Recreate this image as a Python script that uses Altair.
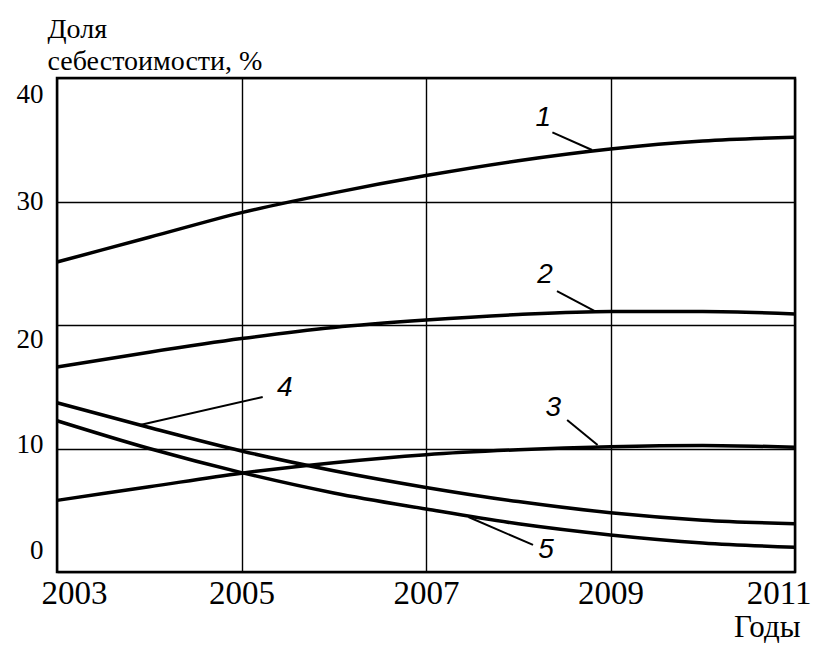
import altair as alt
import pandas as pd

years = [2003, 2004, 2005, 2006, 2007, 2008, 2009, 2010, 2011]
series_1 = [25.1, 27.1, 29.1, 30.7, 32.1, 33.3, 34.25, 34.9, 35.2]
series_2 = [16.6, 17.8, 18.9, 19.8, 20.4, 20.85, 21.1, 21.1, 20.9]
series_3 = [5.8, 6.9, 8.0, 8.85, 9.5, 9.9, 10.15, 10.25, 10.1]
series_4 = [13.7, 11.7, 9.8, 8.2, 6.85, 5.7, 4.8, 4.2, 3.9]
series_5 = [12.25, 10.0, 8.05, 6.4, 5.1, 3.9, 3.0, 2.35, 2.0]
series_names = ["1", "2", "3", "4", "5"]

label_text = ["1", "2", "3", "4", "5"]
label_year = [2008.27, 2008.29, 2008.38, 2005.47, 2008.3]
label_value = [36.76, 24.05, 13.3, 14.9, 1.8]
leader_year_start = [2008.37, 2008.42, 2008.53, 2005.23, 2008.16]
leader_value_start = [35.6, 22.75, 12.3, 14.17, 2.19]
leader_year_end = [2008.8, 2008.83, 2008.86, 2003.9, 2007.46]
leader_value_end = [34.17, 21.13, 10.28, 11.9, 4.45]

x_ticks = [2003, 2005, 2007, 2009, 2011]
y_ticks = [0, 10, 20, 30, 40]

SERIF = "Times New Roman, Liberation Serif, serif"

rows = []
for name, vals in zip(series_names, [series_1, series_2, series_3, series_4, series_5]):
    for yr, v in zip(years, vals):
        rows.append({"series": name, "year": yr, "value": v})
lines_df = pd.DataFrame(rows)

labels_df = pd.DataFrame({"text": label_text, "year": label_year, "value": label_value})
leaders_df = pd.DataFrame({
    "x1": leader_year_start, "y1": leader_value_start,
    "x2": leader_year_end, "y2": leader_value_end,
})

x_scale = alt.Scale(domain=[2003, 2011], nice=False, zero=False)
y_scale = alt.Scale(domain=[0, 40], nice=False)

x_axis = alt.Axis(
    values=x_ticks, format="d", grid=True, domain=False, ticks=False,
    labelFont=SERIF, labelFontSize=33, labelColor="black",
    labelPadding=5, labelFlush=True, labelFlushOffset=16,
    title="Годы", titleFont=SERIF, titleFontSize=31,
    titleFontWeight="normal", titleColor="black", titleAlign="right",
    titleBaseline="alphabetic", titleX=743, titleY=64, titleAnchor="end",
)
y_axis = alt.Axis(
    values=y_ticks, grid=True, domain=False, ticks=False,
    labelFont=SERIF, labelFontSize=27, labelColor="black",
    labelPadding=14, labelBaseline="middle",
    labelOffset={"condition": [
        {"test": "datum.value == 40", "value": 16},
        {"test": "datum.value == 20", "value": 14},
        {"test": "datum.value == 10", "value": -4},
        {"test": "datum.value == 0", "value": -22},
    ], "value": 0},
    title=["Доля", "себестоимости, %"], titleFont=SERIF,
    titleFontSize=28, titleFontWeight="normal", titleColor="black",
    titleAngle=0, titleAlign="left", titleBaseline="alphabetic",
    titleX=-10, titleY=-41, titleLineHeight=32,
)

curves = alt.Chart(lines_df).mark_line(
    color="black", strokeWidth=3.5, interpolate="monotone"
).encode(
    x=alt.X("year:Q", scale=x_scale, axis=x_axis),
    y=alt.Y("value:Q", scale=y_scale, axis=y_axis),
    detail="series:N",
)

leaders = alt.Chart(leaders_df).mark_rule(color="black", strokeWidth=2).encode(
    x=alt.X("x1:Q", scale=x_scale), y=alt.Y("y1:Q", scale=y_scale),
    x2="x2:Q", y2="y2:Q",
)

labels = alt.Chart(labels_df).mark_text(
    font="Liberation Sans", fontStyle="italic", fontSize=28, color="black",
    align="center", baseline="middle",
).encode(
    x=alt.X("year:Q", scale=x_scale), y=alt.Y("value:Q", scale=y_scale),
    text="text:N",
)

chart = alt.layer(curves, leaders, labels).properties(
    width=738, height=494,
    autosize=alt.AutoSizeParams(type="none"),
    padding={"left": 49, "top": 70, "right": 19, "bottom": 73},
    background="white",
).configure_view(
    stroke="black", strokeWidth=2.5
).configure_axis(
    gridColor="black", gridWidth=1.4, gridOpacity=1,
)

chart.save("out.html", embed_options={"renderer": "svg", "actions": False})
